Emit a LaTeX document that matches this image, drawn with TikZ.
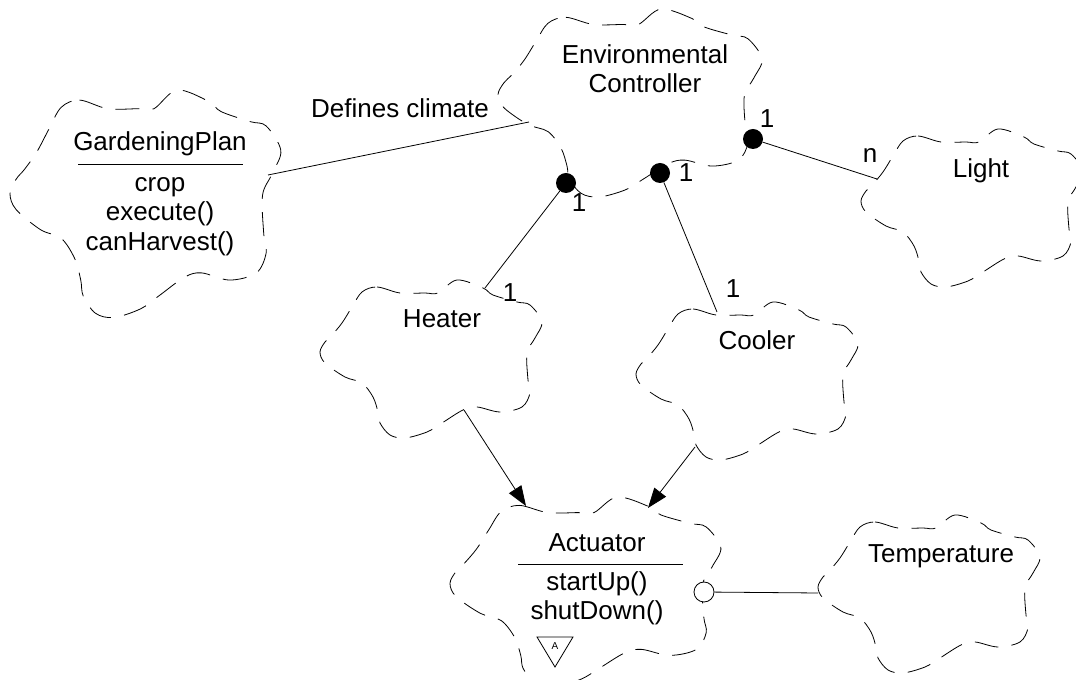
\documentclass[tikz,border=0pt]{standalone}
\usepackage{fontspec}
\setmainfont{Liberation Sans}
\usetikzlibrary{arrows.meta}
\begin{document}
\begin{tikzpicture}[x=0.75pt,y=-0.75pt,
  cloudline/.style={draw, line width=0.6pt, dash pattern=on 18pt off 10pt, line join=round},
  lbl/.style={font=\fontsize{19.5}{22.5}\selectfont, inner sep=0pt, anchor=base},
  conn/.style={line width=0.6pt},
  ball/.style={circle, fill=black, minimum size=15pt, inner sep=0pt},
  hollow/.style={circle, draw, fill=white, minimum size=15pt, inner sep=0pt, line width=0.6pt},
  arr/.style={conn, -{Triangle[length=15pt,width=11pt]}},
  cloud/.pic={\path[cloudline] plot[smooth cycle, tension=0.55] coordinates {
    (42,12) (57,7) (80,13) (105,13) (118,13) (137,0) (163,8) (173,15) (197,22)
    (210,25) (222,42) (215,58) (207,73) (208,100) (210,113) (202,127) (180,132)
    (157,127) (143,130) (122,143) (107,152) (85,158) (70,155) (60,143) (58,132)
    (53,117) (42,103) (25,97) (5,83) (0,72) (5,62) (12,55) (22,43) (32,27)};}
]
\useasboundingbox (0,0) rectangle (1076,680);
\clip (0,0) rectangle (1076,680);

% clouds
\pic[xscale=1.22, yscale=1.44] at (10,90) {cloud};
\pic[scale=1.19] at (498,9) {cloud};
\pic at (861,129) {cloud};
\pic at (320,280) {cloud};
\pic at (636,302) {cloud};
\pic[xscale=1.22, yscale=1.2] at (450,497) {cloud};
\pic at (818,515) {cloud};

% texts
\node[lbl] (gpname) at (160,151) {GardeningPlan};
\draw[conn] (78,164) -- (243,164);
\node[lbl] (gpa1) at (160,192) {crop};
\node[lbl] (gpa2) at (160,221) {execute()};
\node[lbl] (gpa3) at (160,251) {canHarvest()};

\node[lbl] (ec1) at (645,64) {Environmental};
\node[lbl] (ec2) at (645,93) {Controller};
\node[lbl] (light) at (981,178) {Light};
\node[lbl] (heater) at (442,328) {Heater};
\node[lbl] (cooler) at (757,350) {Cooler};
\node[lbl] (temp) at (941,563) {Temperature};

\node[lbl] (act) at (597,552) {Actuator};
\draw[conn] (518,564) -- (683,564);
\node[lbl] (act1) at (597,591) {startUp()};
\node[lbl] (act2) at (597,620) {shutDown()};
\draw[conn] (537,637) -- (573,637) -- (555,667) -- cycle;
\node[font=\fontsize{7.5}{8}\selectfont, inner sep=0pt] (abs) at (555,646) {A};

% connection points
\coordinate (gpR) at (268,175);
\coordinate (ecL) at (529,122);
\coordinate (heaterTop) at (485,288);
\coordinate (coolerTop) at (717,312);
\coordinate (lightL) at (877,179);
\coordinate (heaterBot) at (464,410);
\coordinate (actTopL) at (526,506);
\coordinate (coolerBot) at (695,447);
\coordinate (actTopR) at (648,508);
\coordinate (tempL) at (818,593);

\node[ball] (ballH) at (566,183) {};
\node[ball] (ballC) at (660,173) {};
\node[ball] (ballL) at (753,139) {};
\node[hollow] (iface) at (704,592) {};

% connectors
\draw[conn] (gpR) -- (ecL);
\node[lbl] (defines) at (400,118) {Defines climate};
\draw[conn] (ballH) -- (heaterTop);
\draw[conn] (ballC) -- (coolerTop);
\draw[conn] (ballL) -- (lightL);
\draw[arr] (heaterBot) -- (actTopL);
\draw[arr] (coolerBot) -- (actTopR);
\draw[conn] (iface) -- (tempL);

% multiplicities
\node[lbl] (m1) at (579,212) {1};
\node[lbl] (m2) at (686,182) {1};
\node[lbl] (m3) at (767,128) {1};
\node[lbl] (m4) at (510,302) {1};
\node[lbl] (m5) at (733,298) {1};
\node[lbl] (m6) at (870,163) {n};
\end{tikzpicture}
\end{document}
